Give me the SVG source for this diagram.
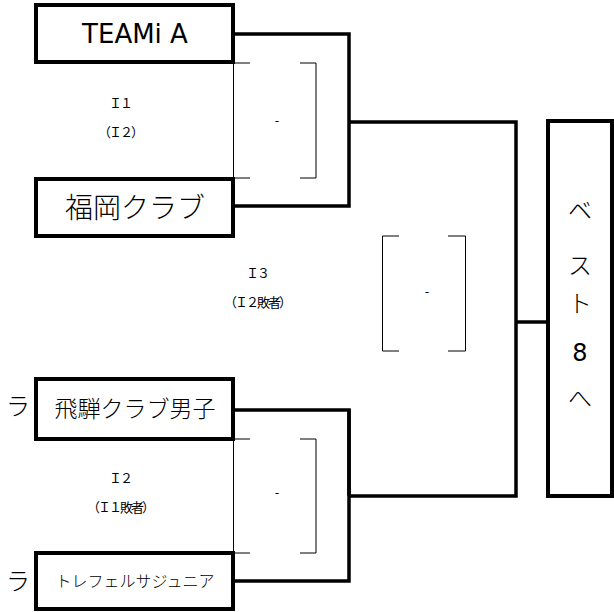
<svg xmlns="http://www.w3.org/2000/svg" width="614" height="612" viewBox="0 0 614 612">
<style>
.box{fill:#fff;stroke:#000;stroke-width:4}
.con{fill:none;stroke:#000;stroke-width:3.5}
.thin{fill:none;stroke:#000;stroke-width:1}
text{font-family:"DejaVu Sans","Noto Sans CJK JP",sans-serif;fill:#000;text-anchor:middle}
.jp{font-family:"Noto Sans CJK JP",sans-serif;font-weight:300}
.sm{font-family:"Noto Sans CJK JP",sans-serif;font-size:13px;letter-spacing:-2px}
</style>
<rect width="614" height="612" fill="#fff"/>
<g id="connectors">
<polyline class="con" points="233,34 349,34 349,206 233,206"/>
<polyline class="con" points="349,122 516,122 516,496 349,496"/>
<polyline class="con" points="233,410 349,410 349,581 233,581"/>
<line class="con" x1="349" y1="409" x2="349" y2="496"/>
<line class="con" x1="516" y1="322" x2="548" y2="322"/>
</g>
<g id="brackets">
<polyline class="thin" points="250,63 233.5,63 233.5,178 250,178"/>
<polyline class="thin" points="300,63 316,63 316,178 300,178"/>
<polyline class="thin" points="250,439 233.5,439 233.5,553 250,553"/>
<polyline class="thin" points="300,439 316,439 316,553 300,553"/>
<polyline class="thin" points="399,236 382.5,236 382.5,351 399,351"/>
<polyline class="thin" points="448,236 465.5,236 465.5,351 448,351"/>
</g>
<g id="team1"><rect class="box" x="36" y="5" width="197" height="57"/><text x="135" y="43" font-size="26">TEAMi A</text></g>
<g id="team2"><rect class="box" x="36" y="179" width="197" height="57"/><text class="jp" x="135" y="218" font-size="28">福岡クラブ</text></g>
<g id="team3"><rect class="box" x="36" y="379" width="197" height="60"/><text class="jp" x="135" y="417" font-size="23">飛騨クラブ男子</text><text class="jp" x="18" y="415" font-size="24">ラ</text></g>
<g id="team4"><rect class="box" x="36" y="553" width="197" height="56"/><text class="jp" x="135" y="587" font-size="16">トレフェルサジュニア</text><text class="jp" x="18" y="590" font-size="24">ラ</text></g>
<g id="best8"><rect class="box" x="548" y="121" width="64" height="375"/>
<text class="jp" x="580" y="219" font-size="24">ベ</text>
<text class="jp" x="580" y="274" font-size="24">ス</text>
<text class="jp" x="580" y="312" font-size="24">ト</text>
<text x="580" y="361" font-size="24">8</text>
<text class="jp" x="580" y="407" font-size="24">へ</text>
</g>
<g id="match1"><text class="sm" x="120" y="108">Ｉ１</text><text class="sm" x="120" y="137">（Ｉ２）</text><text class="sm" x="276" y="125">-</text></g>
<g id="match2"><text class="sm" x="120" y="483">Ｉ２</text><text class="sm" x="120" y="512">（Ｉ１敗者）</text><text class="sm" x="276" y="497">-</text></g>
<g id="match3"><text class="sm" x="257" y="278">Ｉ３</text><text class="sm" x="257" y="307">（Ｉ２敗者）</text><text class="sm" x="426" y="296">-</text></g>
</svg>
